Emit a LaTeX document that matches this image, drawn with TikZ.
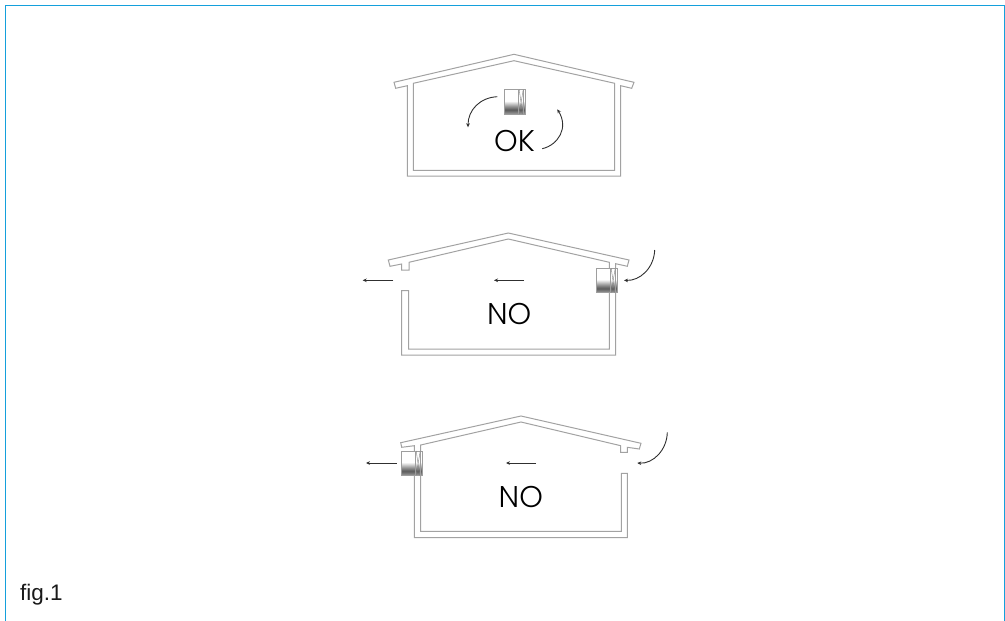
\documentclass[tikz,border=0pt]{standalone}
\usepackage{fontspec}
\setmainfont{Liberation Sans}
\newfontfamily\geofont{Poppins Light}
\usetikzlibrary{arrows.meta}
\definecolor{frameblue}{RGB}{20,160,220}
\definecolor{wallgray}{HTML}{A2A2A2}
\definecolor{inkgray}{HTML}{303030}
\pgfdeclareverticalshading{fanshade}{100bp}{
  color(0bp)=(black!38); color(25bp)=(black!38); color(34bp)=(black!65);
  color(41bp)=(black!42); color(52bp)=(white); color(100bp)=(white)}
\tikzset{
  frameline/.style={draw=frameblue,line width=1.4pt},
  wallline/.style={draw=wallgray,line width=1pt,line join=miter},
  flowline/.style={draw=inkgray,line width=0.9pt,-{Stealth[length=4pt,width=3.6pt]}},
  verdict/.style={font=\geofont\fontsize{30}{30}\selectfont,text=black,inner sep=0pt},
  fanframe/.style={draw=black!38,line width=0.7pt},
  fanunit/.pic={
    \shade[shading=fanshade] (0,0) rectangle (20.6,24.4);
    \draw[fanframe] (0,0) rectangle (20.6,24.4);
    \draw[fanframe] (13.6,0) -- (13.6,24.4) (19,0) -- (19,24.4);
    \draw[draw=black!50,line width=0.4pt] (14.5,0) -- (18,24.4) (18.5,0) -- (14.5,24.4);
  }
}
\begin{document}
\begin{tikzpicture}[x=1pt,y=-1pt]
\useasboundingbox (0,0) rectangle (1005,621);
% frame
\draw[frameline] (5.6,621) -- (5.6,5.4) -- (1004.2,5.4) -- (1004.2,621);
% house 1
\draw[wallline] (514,54.3) -- (394,82.3) -- (395.7,88.3) -- (407.3,85.7) -- (407.3,176) -- (620.7,176) -- (620.7,85.7) -- (631.7,88.3) -- (634,82.3) -- cycle;
\draw[wallline] (413.3,83.3) -- (514,60.7) -- (614.7,83.3) -- (614.7,170.3) -- (413.3,170.3) -- cycle;
\pic at (504.7,89.7) {fanunit};
\coordinate (a1s) at (497.3,96.7); \coordinate (a1e) at (468,127.3);
\coordinate (a2s) at (542.3,148.7); \coordinate (a2e) at (557.3,109.3);
\draw[flowline] (a1s) .. controls (480,97.5) and (468,110) .. (a1e);
\draw[flowline] (a2s) .. controls (558,145) and (569,128) .. (a2e);
\node[verdict] (ok) at (514.5,141) {OK};
% house 2
\draw[wallline] (508.3,233) -- (388.3,260) -- (390,266.3) -- (401.7,264) -- (401.7,270) -- (409,270) -- (409,262.3) -- (508.3,239) -- (609.3,262.3) -- (609.3,349) -- (408.7,349) -- (408.7,290.7) -- (401.7,290.7) -- (401.7,355) -- (615.7,355) -- (615.7,263.7) -- (627.3,266.3) -- (629,260) -- cycle;
\pic at (596.7,268.3) {fanunit};
\coordinate (b1s) at (393.3,280.3); \coordinate (b1e) at (362.7,280.3);
\coordinate (b2s) at (524,280.3); \coordinate (b2e) at (494,280.3);
\coordinate (b3s) at (654.7,250); \coordinate (b3e) at (624,280.3);
\draw[flowline] (b1s) -- (b1e);
\draw[flowline] (b2s) -- (b2e);
\draw[flowline] (b3s) .. controls (654,268) and (640,281) .. (b3e);
\node[verdict] (no1) at (509.2,313.5) {NO};
% house 3
\draw[wallline] (521,416) -- (400.7,442.7) -- (401.7,447.3) -- (414.3,445.7) -- (414.3,537.7) -- (627.3,537.7) -- (627.3,473.3) -- (621.3,473.3) -- (621.3,531.3) -- (420.7,531.3) -- (420.7,445) -- (521,422) -- (620.7,445.7) -- (620.7,452.3) -- (627.3,452.3) -- (627.3,447.3) -- (639.3,449) -- (641,443.3) -- cycle;
\pic at (401.7,451) {fanunit};
\coordinate (c1s) at (396.7,463); \coordinate (c1e) at (366,463);
\coordinate (c2s) at (536,463); \coordinate (c2e) at (506,463);
\coordinate (c3s) at (667.3,432.3); \coordinate (c3e) at (637.3,463);
\draw[flowline] (c1s) -- (c1e);
\draw[flowline] (c2s) -- (c2e);
\draw[flowline] (c3s) .. controls (667,450) and (653,464) .. (c3e);
\node[verdict] (no2) at (520.8,496.5) {NO};
% caption
\node[anchor=base west,inner sep=0pt,font=\fontsize{22.5}{24}\selectfont,text=black!90] (cap) at (20,600.7) {fig.1};
\end{tikzpicture}
\end{document}
